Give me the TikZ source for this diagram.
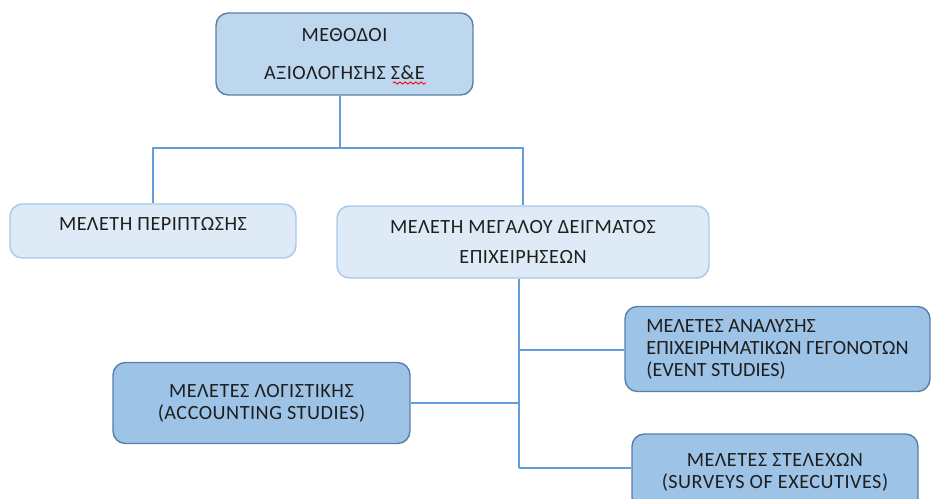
\documentclass[tikz,border=0pt]{standalone}
\usepackage{fontspec}
\setmainfont[LetterSpace=2.5]{Carlito}
\newfontfamily\tightfont{Carlito}
\usetikzlibrary{decorations.pathmorphing}
\definecolor{paleblue}{RGB}{222,235,247}
\definecolor{skyblue}{RGB}{189,215,238}
\definecolor{midblue}{RGB}{157,195,230}
\definecolor{rimblue}{RGB}{90,126,168}
\definecolor{softrim}{RGB}{168,200,234}
\definecolor{wire}{RGB}{100,158,218}
\definecolor{ink}{RGB}{30,30,30}
\tikzset{
  card/.style={draw=rimblue,fill=#1,rounded corners=7pt,line width=0.8pt,
    align=center,text=ink,inner sep=0pt,
    font=\fontsize{11.5}{12.5}\selectfont},
  card/.default=midblue,
  light card/.style={card=paleblue,draw=softrim},
  link/.style={draw=wire,line width=0.8pt},
}
\begin{document}
\begin{tikzpicture}[x=0.02cm,y=-0.02cm]
  \useasboundingbox (0,0) rectangle (934,498);
  % top level
  \node[card=skyblue,minimum width=5.14cm,minimum height=1.64cm] (methods) at (344.5,54)
    {ΜΕΘΟΔΟΙ\\[9pt]ΑΞΙΟΛΟΓΗΣΗΣ Σ\&Ε};
  \draw[red,line width=0.5pt,decorate,decoration={snake,amplitude=0.6pt,segment length=3pt}]
    (393,83) -- (426,83);
  % second level
  \node[light card,minimum width=5.72cm,minimum height=1.08cm,text depth=8pt] (case) at (153,231)
    {ΜΕΛΕΤΗ ΠΕΡΙΠΤΩΣΗΣ};
  \node[light card,minimum width=7.44cm,minimum height=1.44cm] (sample) at (523,242)
    {ΜΕΛΕΤΗ ΜΕΓΑΛΟΥ ΔΕΙΓΜΑΤΟΣ\\[4.5pt]ΕΠΙΧΕΙΡΗΣΕΩΝ};
  % third level
  \node[card,minimum width=6.1cm,minimum height=1.7cm,align=left,
    font=\tightfont\fontsize{11.5}{12.5}\selectfont] (event) at (777.5,349)
    {ΜΕΛΕΤΕΣ ΑΝΑΛΥΣΗΣ\\ΕΠΙΧΕΙΡΗΜΑΤΙΚΩΝ ΓΕΓΟΝΟΤΩΝ\\(EVENT STUDIES)};
  \node[card,minimum width=5.94cm,minimum height=1.62cm] (accounting) at (261.5,403)
    {ΜΕΛΕΤΕΣ ΛΟΓΙΣΤΙΚΗΣ\\(ACCOUNTING STUDIES)};
  \node[card,minimum width=5.72cm,minimum height=1.52cm] (surveys) at (775,472)
    {ΜΕΛΕΤΕΣ ΣΤΕΛΕΧΩΝ\\(SURVEYS OF EXECUTIVES)};
  % connectors
  \coordinate (split) at (340,148);
  \coordinate (trunk) at (519,468);
  \draw[link] (methods.south -| split) -- (split);
  \draw[link] (case.north) |- (split) -| (sample.north);
  \draw[link] (sample.south -| trunk) -- (trunk);
  \draw[link] (event.west |- 0,350) -- (trunk |- 0,350);
  \draw[link] (accounting.east) -- (accounting.east -| trunk);
  \draw[link] (trunk) -- (surveys.west |- trunk);
\end{tikzpicture}
\end{document}
